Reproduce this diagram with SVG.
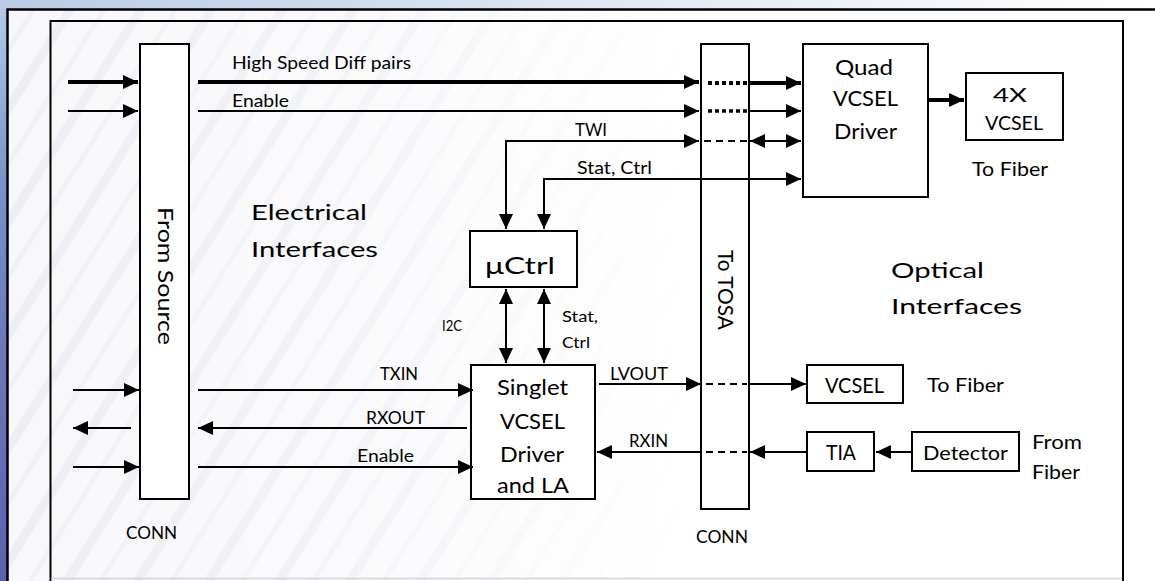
<svg xmlns="http://www.w3.org/2000/svg" width="1155" height="581" viewBox="0 0 1155 581">
<defs>
<style>
.box{fill:#fff;stroke:#000;stroke-width:2}
.t{font-family:Lato,"Liberation Sans",sans-serif;fill:#000}
.ln{fill:none;stroke:#000;stroke-width:2}
.thk{fill:none;stroke:#000;stroke-width:4}
.dot{fill:none;stroke:#000;stroke-width:4;stroke-dasharray:4 3}
.dash{fill:none;stroke:#000;stroke-width:2;stroke-dasharray:7 5}
</style>
<marker id="ah" markerUnits="userSpaceOnUse" markerWidth="16" markerHeight="14" refX="15" refY="7" orient="auto-start-reverse" viewBox="0 0 16 14">
<path d="M0,0 L15,7 L0,14 z" fill="#000"/>
</marker>
<linearGradient id="leftg" x1="0" y1="0" x2="0" y2="1">
<stop offset="0" stop-color="#b7cbe6"/>
<stop offset="0.3" stop-color="#7f93c9"/>
<stop offset="0.6" stop-color="#6d78b8"/>
<stop offset="1" stop-color="#5b63a8"/>
</linearGradient>
<linearGradient id="topg" x1="0" y1="0" x2="1" y2="0">
<stop offset="0" stop-color="#b9cbe5"/>
<stop offset="0.5" stop-color="#dfe7f2"/>
<stop offset="1" stop-color="#ffffff"/>
</linearGradient>
<pattern id="streak" patternUnits="userSpaceOnUse" width="60" height="60" patternTransform="rotate(-58)">
<rect width="60" height="60" fill="#f8f8fb"/>
<rect x="0" y="0" width="60" height="9" fill="#eceef4"/>
<rect x="0" y="31" width="60" height="5" fill="#f0f1f6"/>
</pattern>
<linearGradient id="fade" x1="0" y1="0" x2="1" y2="0">
<stop offset="0" stop-color="#fff" stop-opacity="1"/>
<stop offset="0.3" stop-color="#fff" stop-opacity="0.7"/>
<stop offset="0.6" stop-color="#fff" stop-opacity="0"/>
</linearGradient>
<mask id="fm"><rect width="1155" height="581" fill="url(#fade)"/></mask>
</defs>

<g id="background">
<rect width="1155" height="581" fill="#fff"/>
<rect width="1155" height="581" fill="url(#streak)" mask="url(#fm)"/>
<rect x="0" y="0" width="7" height="581" fill="url(#leftg)"/>
<rect x="0" y="0" width="1155" height="9" fill="url(#topg)"/>
<path d="M7.5,581 V9.5 H1155" fill="none" stroke="#000" stroke-width="2.5"/>
<path d="M50.5,581 V21 H1123 V581" fill="none" stroke="#000" stroke-width="2"/>
<line x1="51" y1="578.5" x2="1122" y2="578.5" stroke="#d4d4d8" stroke-width="1.5"/>
</g>

<g id="labels">
<text class="t" x="251" y="220" font-size="22" textLength="116" lengthAdjust="spacingAndGlyphs">Electrical</text>
<text class="t" x="251" y="257" font-size="22" textLength="127" lengthAdjust="spacingAndGlyphs">Interfaces</text>
<text class="t" x="891" y="278" font-size="22" textLength="93" lengthAdjust="spacingAndGlyphs">Optical</text>
<text class="t" x="891" y="314" font-size="22" textLength="131" lengthAdjust="spacingAndGlyphs">Interfaces</text>
<text class="t" x="126" y="539" font-size="18" textLength="51" lengthAdjust="spacingAndGlyphs">CONN</text>
<text class="t" x="696" y="543" font-size="18" textLength="52" lengthAdjust="spacingAndGlyphs">CONN</text>
</g>

<g id="conn-source">
<rect class="box" x="140" y="44" width="49" height="455"/>
<text class="t" font-size="21" transform="translate(158,207) rotate(90)" textLength="138" lengthAdjust="spacingAndGlyphs">From Source</text>
</g>

<g id="conn-tosa">
<rect class="box" x="701" y="44" width="48" height="465"/>
<text class="t" font-size="21" transform="translate(718,250) rotate(90)" textLength="80" lengthAdjust="spacingAndGlyphs">To TOSA</text>
</g>

<g id="quad-driver">
<rect class="box" x="803" y="44" width="125" height="153"/>
<text class="t" font-size="21" x="835" y="75" textLength="58" lengthAdjust="spacingAndGlyphs">Quad</text>
<text class="t" font-size="21" x="833" y="106" textLength="65" lengthAdjust="spacingAndGlyphs">VCSEL</text>
<text class="t" font-size="21" x="834" y="139" textLength="63" lengthAdjust="spacingAndGlyphs">Driver</text>
</g>

<g id="vcsel4x">
<rect class="box" x="966" y="73" width="97" height="67"/>
<text class="t" font-size="18.5" x="993" y="102" textLength="34" lengthAdjust="spacingAndGlyphs">4X</text>
<text class="t" font-size="18.5" x="985" y="130" textLength="58" lengthAdjust="spacingAndGlyphs">VCSEL</text>
<text class="t" font-size="20" x="972" y="176" textLength="76" lengthAdjust="spacingAndGlyphs">To Fiber</text>
</g>

<g id="uctrl">
<rect class="box" x="470" y="231" width="107" height="56"/>
<text class="t" font-size="23.5" x="485" y="274" textLength="70" lengthAdjust="spacingAndGlyphs">μCtrl</text>
</g>

<g id="singlet">
<rect class="box" x="471" y="365" width="124" height="134"/>
<text class="t" font-size="21.5" x="497" y="395" textLength="71" lengthAdjust="spacingAndGlyphs">Singlet</text>
<text class="t" font-size="21.5" x="500" y="429" textLength="65" lengthAdjust="spacingAndGlyphs">VCSEL</text>
<text class="t" font-size="21.5" x="500" y="462" textLength="64" lengthAdjust="spacingAndGlyphs">Driver</text>
<text class="t" font-size="21.5" x="497" y="493" textLength="72" lengthAdjust="spacingAndGlyphs">and LA</text>
</g>

<g id="vcsel">
<rect class="box" x="807" y="365" width="96" height="38"/>
<text class="t" font-size="20.5" x="825" y="393" textLength="59" lengthAdjust="spacingAndGlyphs">VCSEL</text>
<text class="t" font-size="20" x="927" y="392" textLength="77" lengthAdjust="spacingAndGlyphs">To Fiber</text>
</g>

<g id="tia">
<rect class="box" x="807" y="432" width="67" height="39"/>
<text class="t" font-size="20.5" x="826" y="460" textLength="30" lengthAdjust="spacingAndGlyphs">TIA</text>
</g>

<g id="detector">
<rect class="box" x="912" y="432" width="107" height="39"/>
<text class="t" font-size="20" x="923" y="460" textLength="85" lengthAdjust="spacingAndGlyphs">Detector</text>
<text class="t" font-size="20" x="1032" y="449" textLength="50" lengthAdjust="spacingAndGlyphs">From</text>
<text class="t" font-size="20" x="1032" y="479" textLength="48" lengthAdjust="spacingAndGlyphs">Fiber</text>
</g>

<g id="connectors">
<line class="thk" x1="68" y1="82" x2="138" y2="82" marker-end="url(#ah)"/>
<line class="ln" x1="68" y1="111" x2="138" y2="111" marker-end="url(#ah)"/>
<line class="thk" x1="198" y1="82" x2="699" y2="82" marker-end="url(#ah)"/>
<line class="ln" x1="198" y1="111" x2="699" y2="111" marker-end="url(#ah)"/>
<line class="dot" x1="708" y1="83" x2="747" y2="83"/>
<line class="dot" x1="708" y1="111" x2="747" y2="111" style="stroke-width:3.5"/>
<line class="thk" x1="749" y1="83" x2="801" y2="83" marker-end="url(#ah)"/>
<line class="ln" x1="749" y1="111" x2="801" y2="111" marker-end="url(#ah)"/>
<text class="t" font-size="16.5" x="232" y="69" textLength="179" lengthAdjust="spacingAndGlyphs">High Speed Diff pairs</text>
<text class="t" font-size="16.5" x="232" y="107" textLength="57" lengthAdjust="spacingAndGlyphs">Enable</text>

<polyline class="ln" points="506,229 506,141 699,141" marker-start="url(#ah)" marker-end="url(#ah)"/>
<line class="dash" x1="704" y1="141" x2="747" y2="141"/>
<line class="ln" x1="750" y1="141" x2="801" y2="141" marker-start="url(#ah)" marker-end="url(#ah)"/>
<text class="t" font-size="16.5" x="575" y="136" textLength="32" lengthAdjust="spacingAndGlyphs">TWI</text>

<polyline class="ln" points="544,229 544,179 801,179" marker-start="url(#ah)" marker-end="url(#ah)"/>
<text class="t" font-size="17" x="577" y="174" textLength="75" lengthAdjust="spacingAndGlyphs">Stat, Ctrl</text>

<line class="thk" x1="928" y1="100" x2="964" y2="100" marker-end="url(#ah)"/>

<line class="ln" x1="506" y1="289" x2="506" y2="363" marker-start="url(#ah)" marker-end="url(#ah)"/>
<line class="ln" x1="544" y1="289" x2="544" y2="363" marker-start="url(#ah)" marker-end="url(#ah)"/>
<text class="t" font-size="15.5" x="442" y="331" textLength="20" lengthAdjust="spacingAndGlyphs">I2C</text>
<text class="t" font-size="15.5" x="562" y="322" textLength="36" lengthAdjust="spacingAndGlyphs">Stat,</text>
<text class="t" font-size="15.5" x="562" y="348" textLength="28" lengthAdjust="spacingAndGlyphs">Ctrl</text>

<line class="ln" x1="73" y1="390" x2="139" y2="390" marker-end="url(#ah)"/>
<line class="ln" x1="131" y1="428" x2="73" y2="428" marker-end="url(#ah)"/>
<line class="ln" x1="73" y1="467" x2="139" y2="467" marker-end="url(#ah)"/>

<line class="ln" x1="198" y1="390" x2="473" y2="390" marker-end="url(#ah)"/>
<line class="ln" x1="467" y1="428" x2="198" y2="428" marker-end="url(#ah)"/>
<line class="ln" x1="198" y1="467" x2="473" y2="467" marker-end="url(#ah)"/>
<text class="t" font-size="17.5" x="380" y="380" textLength="38" lengthAdjust="spacingAndGlyphs">TXIN</text>
<text class="t" font-size="17.5" x="366" y="424" textLength="59" lengthAdjust="spacingAndGlyphs">RXOUT</text>
<text class="t" font-size="17.5" x="357" y="462" textLength="57" lengthAdjust="spacingAndGlyphs">Enable</text>

<line class="ln" x1="599" y1="384" x2="701" y2="384" marker-end="url(#ah)"/>
<line class="dash" x1="706" y1="384" x2="747" y2="384"/>
<line class="ln" x1="749" y1="384" x2="806" y2="384" marker-end="url(#ah)"/>
<text class="t" font-size="17.5" x="610" y="380" textLength="58" lengthAdjust="spacingAndGlyphs">LVOUT</text>

<line class="ln" x1="701" y1="452" x2="597" y2="452" marker-end="url(#ah)"/>
<line class="dash" x1="706" y1="452" x2="747" y2="452"/>
<line class="ln" x1="807" y1="452" x2="750" y2="452" marker-end="url(#ah)"/>
<text class="t" font-size="17.5" x="629" y="447" textLength="39" lengthAdjust="spacingAndGlyphs">RXIN</text>

<line class="ln" x1="912" y1="452" x2="876" y2="452" marker-end="url(#ah)"/>
</g>
</svg>
